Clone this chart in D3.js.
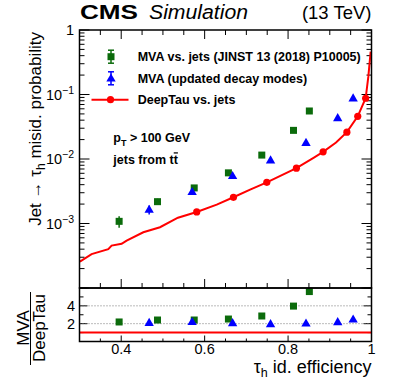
<!DOCTYPE html>
<html><head><meta charset="utf-8">
<script src="https://cdn.jsdelivr.net/npm/d3@7"></script>
<style>
body{margin:0;background:#fff}
svg{display:block}
text{font-family:"Liberation Sans",Arial,Helvetica,sans-serif;fill:#000}
</style>
</head><body>
<svg id="c" width="399" height="385"></svg>
<script>
// ---------- data ----------
const deepTauEff   = [0.301,0.329,0.369,0.377,0.401,0.413,0.453,0.493,0.536,0.581,0.629,0.669,0.709,0.749,0.820,0.861,0.884,0.915,0.941,0.967,0.986,0.9924,0.998];
const deepTauMisid = [2.57e-4,3.35e-4,4.0e-4,4.55e-4,4.84e-4,5.44e-4,7.31e-4,8.75e-4,1.23e-3,1.51e-3,1.96e-3,2.55e-3,3.35e-3,4.35e-3,7.2e-3,1.04e-2,1.29e-2,1.8e-2,2.61e-2,4.58e-2,8.74e-2,0.189,0.461];
const deepTauMarkerEff   = [0.581,0.669,0.749,0.820,0.884,0.941,0.967,0.986];
const deepTauMarkerMisid = [1.51e-3,2.55e-3,4.35e-3,7.2e-3,1.29e-2,2.61e-2,4.58e-2,8.74e-2];

const mvaOldEff   = [0.395,0.487,0.575,0.657,0.737,0.813,0.851];
const mvaOldMisid = [1.08e-3,2.18e-3,3.56e-3,6.1e-3,1.15e-2,2.78e-2,5.55e-2];
const mvaOldErr   = [0.22e-3,0.25e-3,0.15e-3,0.2e-3,0.3e-3,0.6e-3,1.0e-3];
const mvaOldRatio = [2.19,2.41,2.41,2.52,2.86,3.97,5.6];

const mvaNewEff   = [0.467,0.570,0.667,0.758,0.843,0.919,0.956];
const mvaNewMisid = [1.64e-3,3.09e-3,5.48e-3,9.58e-3,1.79e-2,4.32e-2,8.74e-2];
const mvaNewErr   = [0.26e-3,0.2e-3,0.2e-3,0.3e-3,0.5e-3,1.0e-3,2.0e-3];
const mvaNewRatio = [2.10,2.20,2.08,1.97,2.04,2.19,2.49];

const xTickLabels = [0.4,0.6,0.8,1];
const yTickExponents = [0,-1,-2,-3];
const ratioTickLabels = [2,4];
const legendLabels = ["MVA vs. jets (JINST 13 (2018) P10005)","MVA (updated decay modes)","DeepTau vs. jets"];

// ---------- setup ----------
const GREEN = "#0b6b0b", BLUE = "#0000ff", RED = "#ff0000";
const svg = d3.select("#c");
const L = 79.5, R = 371.5, T = 30, B = 288, RB = 341.5;
const x  = d3.scaleLinear().domain([0.3,1]).range([L,R]);
const y  = d3.scaleLog().domain([1e-4,1]).range([B,T]);
const yr = d3.scaleLinear().domain([0,6]).range([RB,B]);

svg.append("defs").append("clipPath").attr("id","clipMain")
  .append("rect").attr("x",L).attr("y",T).attr("width",R-L).attr("height",B-T);

// ---------- ticks ----------
const tk = svg.append("g").attr("stroke","#000").attr("stroke-width",1);
const logMajor = [], logMinor = [];
for (let d=-4; d<=0; d++) {
  logMajor.push(Math.pow(10,d));
  if (d<0) for (let k=2;k<=9;k++) logMinor.push(k*Math.pow(10,d));
}
logMajor.forEach(v=>{
  tk.append("line").attr("x1",L).attr("x2",L+10).attr("y1",y(v)).attr("y2",y(v));
  tk.append("line").attr("x1",R).attr("x2",R-10).attr("y1",y(v)).attr("y2",y(v));
});
logMinor.forEach(v=>{
  tk.append("line").attr("x1",L).attr("x2",L+5).attr("y1",y(v)).attr("y2",y(v));
  tk.append("line").attr("x1",R).attr("x2",R-5).attr("y1",y(v)).attr("y2",y(v));
});
const xt = d3.range(0.35,1.0001,0.05);
xt.forEach(v=>{
  const major = Math.abs(Math.round(v*10)/10 - v) < 1e-6 && Math.round(v*10)%2===0;
  const len = major ? 9 : 5;
  tk.append("line").attr("x1",x(v)).attr("x2",x(v)).attr("y1",B).attr("y2",B-len);
  tk.append("line").attr("x1",x(v)).attr("x2",x(v)).attr("y1",T).attr("y2",T+len);
  const rl = major ? 6 : 3;
  tk.append("line").attr("x1",x(v)).attr("x2",x(v)).attr("y1",RB).attr("y2",RB-rl);
});
d3.range(0,6.001,1).forEach(v=>{
  const len = (v%2===0) ? 8 : 4;
  tk.append("line").attr("x1",L).attr("x2",L+len).attr("y1",yr(v)).attr("y2",yr(v));
  tk.append("line").attr("x1",R).attr("x2",R-len).attr("y1",yr(v)).attr("y2",yr(v));
});

// ratio reference lines
ratioTickLabels.forEach(v=>{
  svg.append("line").attr("x1",L).attr("x2",R).attr("y1",yr(v)).attr("y2",yr(v))
    .attr("stroke","#777").attr("stroke-width",1).attr("stroke-dasharray","1,2");
});
svg.append("line").attr("x1",L).attr("x2",R).attr("y1",yr(1)).attr("y2",yr(1))
  .attr("stroke",RED).attr("stroke-width",2);

// ---------- marks: main ----------
const gm = svg.append("g").attr("clip-path","url(#clipMain)");
const line = d3.line().x((d,i)=>x(deepTauEff[i])).y((d,i)=>y(deepTauMisid[i]));
gm.append("path").attr("d",line(deepTauEff)).attr("fill","none").attr("stroke",RED).attr("stroke-width",2);
deepTauMarkerEff.forEach((e,i)=>{
  gm.append("circle").attr("cx",x(e)).attr("cy",y(deepTauMarkerMisid[i])).attr("r",3.6).attr("fill",RED);
});
function errbar(g, e, v, err, col){
  g.append("line").attr("x1",x(e)).attr("x2",x(e)).attr("y1",y(v-err)).attr("y2",y(v+err))
   .attr("stroke",col).attr("stroke-width",1.5);
}
const sq = 7, tri = d3.symbol().type(d3.symbolTriangle).size(38);
mvaOldEff.forEach((e,i)=>{
  errbar(gm,e,mvaOldMisid[i],mvaOldErr[i],GREEN);
  gm.append("rect").attr("x",x(e)-sq/2).attr("y",y(mvaOldMisid[i])-sq/2).attr("width",sq).attr("height",sq).attr("fill",GREEN);
});
mvaNewEff.forEach((e,i)=>{
  errbar(gm,e,mvaNewMisid[i],mvaNewErr[i],BLUE);
  gm.append("path").attr("d",tri).attr("transform",`translate(${x(e)},${y(mvaNewMisid[i])+0.5})`).attr("fill",BLUE);
});

// ---------- marks: ratio ----------
const gr = svg.append("g");
mvaOldEff.forEach((e,i)=>{
  gr.append("rect").attr("x",x(e)-sq/2).attr("y",yr(mvaOldRatio[i])-sq/2).attr("width",sq).attr("height",sq).attr("fill",GREEN);
});
mvaNewEff.forEach((e,i)=>{
  gr.append("path").attr("d",tri).attr("transform",`translate(${x(e)},${yr(mvaNewRatio[i])+0.5})`).attr("fill",BLUE);
});

// ---------- frames ----------
svg.append("rect").attr("x",L).attr("y",T).attr("width",R-L).attr("height",B-T)
  .attr("fill","none").attr("stroke","#000").attr("stroke-width",1.5);
svg.append("rect").attr("x",L).attr("y",B).attr("width",R-L).attr("height",RB-B)
  .attr("fill","none").attr("stroke","#000").attr("stroke-width",1.5);

// ---------- tick labels ----------
yTickExponents.forEach(p=>{
  const t = svg.append("text").attr("x",74).attr("y",y(Math.pow(10,p))+5)
    .attr("text-anchor","end").attr("font-size",14.5);
  if (p===0) t.text("1");
  else {
    t.append("tspan").text("10");
    t.append("tspan").attr("dy",-6).attr("font-size",10.5).text("\u2212"+(-p));
  }
});
xTickLabels.forEach(v=>{
  svg.append("text").attr("x",x(v)).attr("y",354).attr("text-anchor","middle")
    .attr("font-size",14.5).text(v===1?"1":d3.format(".1f")(v));
});
ratioTickLabels.forEach(v=>{
  svg.append("text").attr("x",75).attr("y",yr(v)+5).attr("text-anchor","end")
    .attr("font-size",14.5).text(v);
});

// ---------- axis titles ----------
const xl = svg.append("text").attr("x",R).attr("y",373).attr("text-anchor","end").attr("font-size",18);
xl.append("tspan").text("\u03c4");
xl.append("tspan").attr("dy",4).attr("font-size",12.5).text("h");
xl.append("tspan").attr("dy",-4).text(" id. efficiency");

const yl = svg.append("text").attr("transform","translate(41,32) rotate(-90)").attr("text-anchor","end").attr("font-size",17);
yl.append("tspan").text("Jet \u2192 \u03c4");
yl.append("tspan").attr("dy",4).attr("font-size",12).text("h");
yl.append("tspan").attr("dy",-4).text(" misid. probability");

svg.append("text").attr("transform","translate(28.5,328) rotate(-90)").attr("text-anchor","middle").attr("font-size",17).text("MVA");
svg.append("text").attr("transform","translate(45,328) rotate(-90)").attr("text-anchor","middle").attr("font-size",17).text("DeepTau");
svg.append("line").attr("x1",30.5).attr("x2",30.5).attr("y1",292).attr("y2",365).attr("stroke","#000").attr("stroke-width",1);

// ---------- header ----------
svg.append("text").attr("x",80).attr("y",19).attr("font-size",21).attr("font-weight","bold")
  .attr("textLength",58).attr("lengthAdjust","spacingAndGlyphs").text("CMS");
svg.append("text").attr("x",149).attr("y",19).attr("font-size",20).attr("font-style","italic")
  .attr("textLength",99).attr("lengthAdjust","spacingAndGlyphs").text("Simulation");
svg.append("text").attr("x",371.5).attr("y",19).attr("font-size",18.5).attr("text-anchor","end").text("(13 TeV)");

// ---------- legend ----------
const legY = [56.7, 78.3, 99.7];
const lg = svg.append("g");
legendLabels.forEach((s,i)=>{
  lg.append("text").attr("x",137.7).attr("y",legY[i]+4.5).attr("font-size",12.5).attr("font-weight","bold").text(s);
});
function legErr(cx, cy, col){
  lg.append("line").attr("x1",cx).attr("x2",cx).attr("y1",cy-6.5).attr("y2",cy+6.5).attr("stroke",col).attr("stroke-width",1.5);
  lg.append("line").attr("x1",cx-3).attr("x2",cx+3).attr("y1",cy-6.5).attr("y2",cy-6.5).attr("stroke",col).attr("stroke-width",1.5);
  lg.append("line").attr("x1",cx-3).attr("x2",cx+3).attr("y1",cy+6.5).attr("y2",cy+6.5).attr("stroke",col).attr("stroke-width",1.5);
}
legErr(111, legY[0], GREEN);
lg.append("rect").attr("x",111-sq/2).attr("y",legY[0]-sq/2).attr("width",sq).attr("height",sq).attr("fill",GREEN);
legErr(111, legY[1], BLUE);
lg.append("path").attr("d",tri).attr("transform",`translate(111,${legY[1]+0.5})`).attr("fill",BLUE);
lg.append("line").attr("x1",91.5).attr("x2",128.5).attr("y1",legY[2]).attr("y2",legY[2]).attr("stroke",RED).attr("stroke-width",2);
lg.append("circle").attr("cx",110.5).attr("cy",legY[2]).attr("r",3.6).attr("fill",RED);

// ---------- annotations ----------
const pt = svg.append("text").attr("x",113.3).attr("y",142).attr("font-size",12.5).attr("font-weight","bold");
pt.append("tspan").text("p");
pt.append("tspan").attr("dy",3.5).attr("font-size",9).text("T");
pt.append("tspan").attr("dy",-3.5).text(" > 100 GeV");
const jt = svg.append("text").attr("x",113.3).attr("y",164.3).attr("font-size",12.5).attr("font-weight","bold");
jt.append("tspan").text("jets from t");
jt.append("tspan").attr("text-decoration","overline").text("t");
</script>
</body></html>
